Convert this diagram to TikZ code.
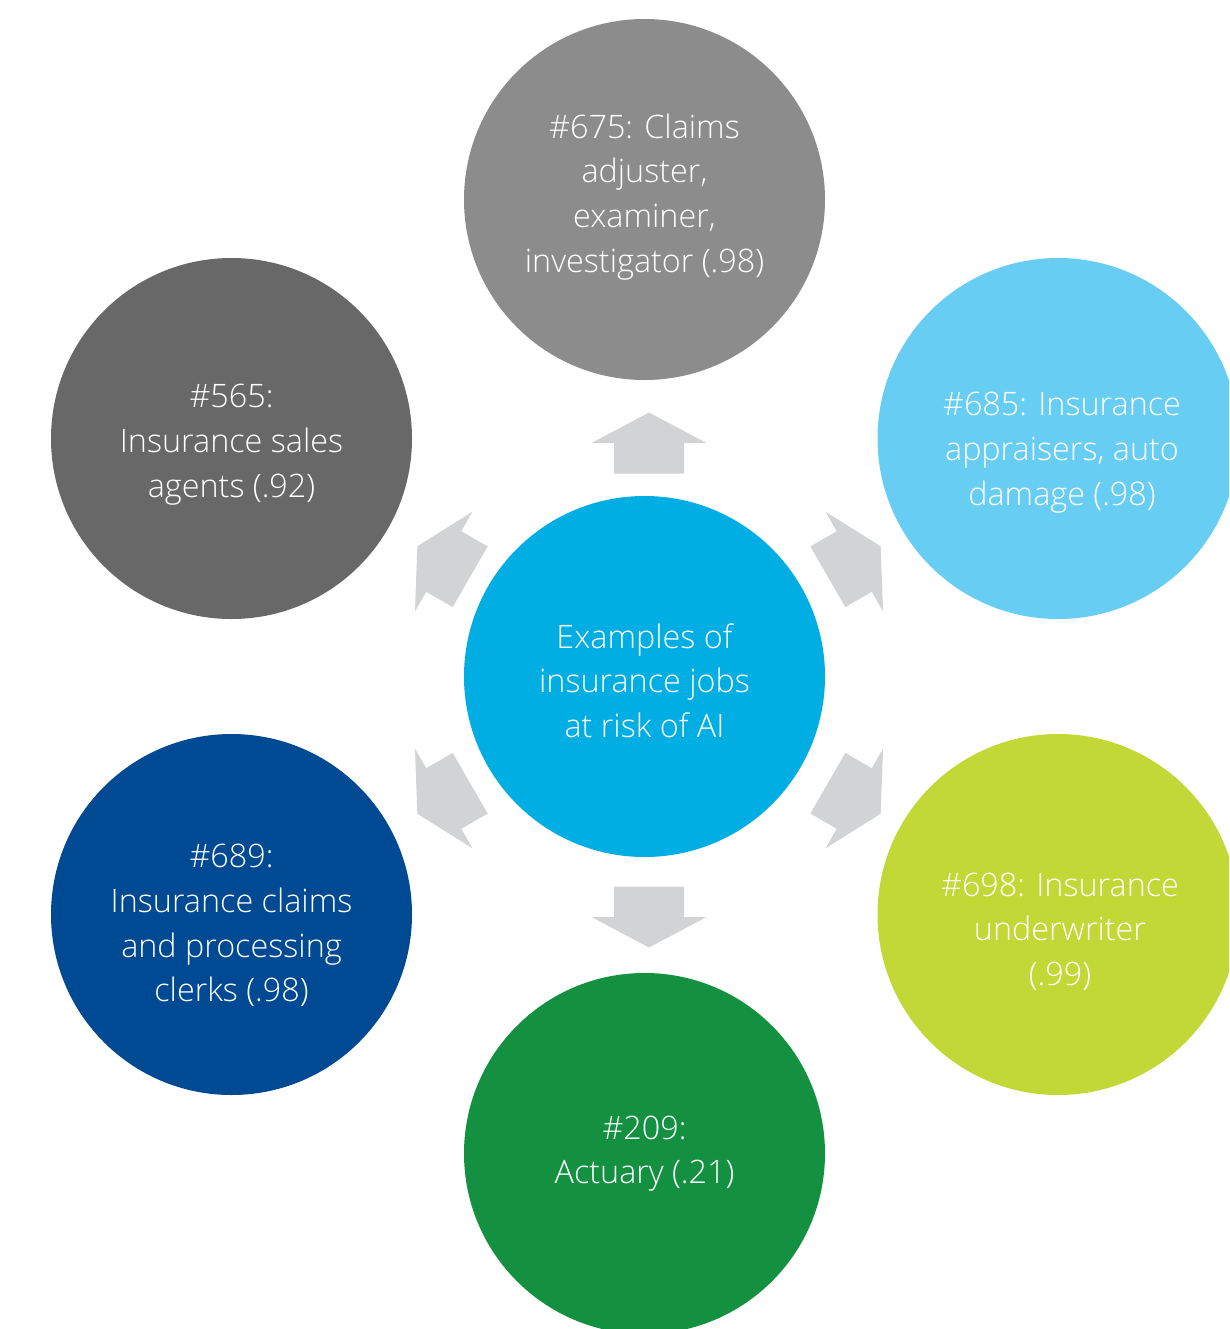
\documentclass[tikz,border=0pt]{standalone}
\usepackage{fontspec}
\setmainfont{Open Sans Light}
\definecolor{cblue}{HTML}{00AEE3}
\definecolor{cgray}{HTML}{8C8C8C}
\definecolor{cdgray}{HTML}{686868}
\definecolor{clblue}{HTML}{68CDF2}
\definecolor{clime}{HTML}{C2D837}
\definecolor{cgreen}{HTML}{139140}
\definecolor{cdblue}{HTML}{004A93}
\definecolor{carrow}{HTML}{D1D3D4}
\tikzset{
  bubble/.style={circle, minimum size=270.75pt, inner sep=0pt},
  bubbletext/.style={text=white, align=center, inner sep=0pt,
    font=\fontsize{24.25pt}{33.5pt}\selectfont},
  blockarrow/.style={fill=carrow, draw=none}
}
\begin{document}
\begin{tikzpicture}[x=0.75pt, y=-0.75pt]
\useasboundingbox (0,0) rectangle (1229,1329);
\clip (0,0) rectangle (1229,1329);
\fill[white] (0,0) rectangle (1229,1329);
% arrows
\foreach \ang in {30,90,150,210,270,330}{
  \begin{scope}[shift={(649,680)}, rotate=\ang]
    \fill[blockarrow] (206.5,35) -- (237,35) -- (237,57.5) -- (267.5,0)
      -- (237,-57.5) -- (237,-35) -- (206.5,-35) -- cycle;
  \end{scope}
}
\node[bubble, fill=cblue] (hub) at (644.5,676.5) {};
\node[bubble, fill=cgray] (claims) at (644.5,199.5) {};
\node[bubble, fill=cdgray] (sales) at (231.5,438.5) {};
\node[bubble, fill=clblue] (apprais) at (1058,438.5) {};
\node[bubble, fill=cdblue] (clerks) at (231.5,914.5) {};
\node[bubble, fill=clime] (under) at (1058,914.5) {};
\node[bubble, fill=cgreen] (actuary) at (644.5,1153.5) {};
\node[bubbletext, yshift=-3pt] (hubt) at (hub) {Examples of\\insurance jobs\\at risk of AI};
\node[bubbletext, yshift=2pt] (claimst) at (claims) {\#675: Claims\\adjuster,\\examiner,\\investigator (.98)};
\node[bubbletext, yshift=-4.5pt] (salest) at (sales) {\#565:\\Insurance sales\\agents (.92)};
\node[bubbletext, yshift=-10.5pt, xshift=3pt] (appraist) at (apprais) {\#685: Insurance\\appraisers, auto\\damage (.98)};
\node[bubbletext, yshift=-8.25pt] (clerkst) at (clerks) {\#689:\\Insurance claims\\and processing\\clerks (.98)};
\node[bubbletext, yshift=-12.75pt, xshift=1.5pt] (undert) at (under) {\#698: Insurance\\underwriter\\(.99)};
\node[bubbletext] (actuaryt) at (actuary) {\#209:\\Actuary (.21)};
\end{tikzpicture}
\end{document}
